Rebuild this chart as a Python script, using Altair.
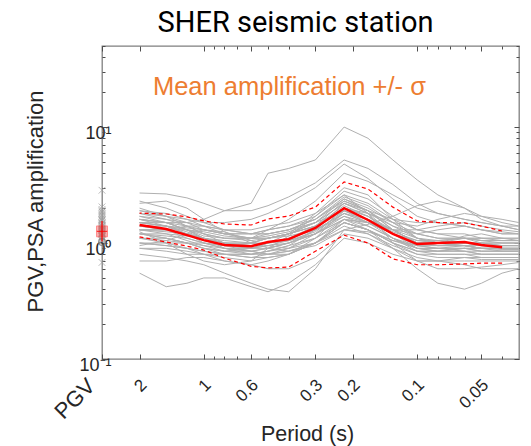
import altair as alt
import pandas as pd

# ---------------- data ----------------
periods = [2, 1.5, 1.2, 1, 0.8, 0.6, 0.5, 0.4, 0.3, 0.22, 0.17, 0.13, 0.1, 0.08, 0.06, 0.05, 0.04, 0.0333]

curves = [
    [1.6, 1.5, 1.5, 1.6, 1.9, 2.2, 4.0, 4.4, 5.2, 10.0, 8.0, 5.2, 3.5, 2.6, 2.0, 1.6, 1.4, 1.3],
    [2.7, 2.65, 2.45, 2.2, 1.9, 1.9, 2.1, 2.5, 3.3, 5.2, 4.4, 3.2, 2.2, 1.8, 1.6, 1.5, 1.4, 1.4],
    [1.8, 1.7, 1.6, 1.5, 1.5, 1.6, 1.8, 2.2, 3.0, 4.8, 3.6, 2.4, 1.7, 1.5, 1.4, 1.3, 1.2, 1.2],
    [1.5, 1.4, 1.3, 1.2, 1.1, 1.1, 1.3, 1.6, 2.3, 4.0, 3.4, 2.6, 2.0, 1.8, 1.6, 1.5, 1.4, 1.3],
    [1.2, 1.1, 1.0, 0.9, 0.85, 0.9, 1.0, 1.2, 1.8, 3.0, 2.6, 1.6, 1.1, 1.0, 0.95, 0.9, 0.9, 0.88],
    [1.9, 1.8, 1.6, 1.4, 1.2, 1.1, 1.1, 1.2, 1.5, 2.2, 1.8, 1.4, 1.2, 1.1, 1.1, 1.0, 1.0, 1.0],
    [1.4, 1.3, 1.2, 1.1, 1.0, 1.0, 1.1, 1.2, 1.4, 2.0, 1.7, 1.3, 1.0, 0.95, 0.95, 0.9, 0.9, 0.9],
    [1.0, 0.95, 0.9, 0.85, 0.8, 0.8, 0.85, 0.9, 1.1, 1.6, 1.4, 1.1, 0.9, 0.85, 0.85, 0.8, 0.8, 0.8],
    [0.8, 0.75, 0.7, 0.65, 0.55, 0.45, 0.4, 0.38, 0.6, 1.3, 1.2, 0.9, 0.7, 0.7, 0.75, 0.75, 0.75, 0.75],
    [0.55, 0.42, 0.45, 0.5, 0.5, 0.42, 0.38, 0.45, 0.65, 1.1, 1.0, 0.8, 0.7, 0.7, 0.7, 0.7, 0.7, 0.7],
    [1.6, 1.5, 1.3, 1.1, 0.9, 0.8, 0.8, 0.85, 1.0, 1.5, 1.3, 1.0, 0.8, 0.8, 0.8, 0.75, 0.75, 0.75],
    [1.3, 1.3, 1.4, 1.4, 1.3, 1.2, 1.2, 1.3, 1.6, 2.4, 2.0, 1.5, 1.2, 1.1, 1.1, 1.1, 1.05, 1.05],
    [2.0, 1.7, 1.4, 1.2, 1.0, 0.9, 0.9, 1.0, 1.2, 1.7, 1.5, 1.2, 1.0, 1.0, 1.1, 1.1, 1.1, 1.1],
    [1.1, 1.0, 0.9, 0.8, 0.7, 0.65, 0.7, 0.8, 1.1, 1.9, 1.6, 1.1, 0.85, 0.8, 0.8, 0.8, 0.8, 0.8],
    [1.5, 1.5, 1.4, 1.3, 1.2, 1.2, 1.3, 1.4, 1.6, 2.3, 1.9, 1.4, 1.1, 1.0, 1.0, 1.0, 0.95, 0.95],
    [0.9, 0.9, 0.85, 0.8, 0.75, 0.7, 0.75, 0.8, 1.0, 1.5, 1.3, 1.0, 0.85, 0.85, 0.9, 0.85, 0.85, 0.85],
    [1.7, 1.6, 1.5, 1.4, 1.3, 1.3, 1.4, 1.5, 1.8, 2.6, 2.2, 1.6, 1.3, 1.2, 1.2, 1.1, 1.1, 1.1],
    [1.3, 1.2, 1.05, 0.95, 0.85, 0.8, 0.85, 0.95, 1.3, 2.2, 1.8, 1.2, 0.9, 0.85, 0.9, 0.9, 0.85, 0.85],
    [1.2, 1.2, 1.15, 1.1, 1.05, 1.0, 1.0, 1.05, 1.2, 1.6, 1.5, 1.2, 1.0, 1.0, 1.0, 1.0, 1.0, 1.0],
    [1.4, 1.3, 1.1, 1.0, 0.9, 0.85, 0.9, 1.0, 1.3, 1.8, 1.5, 1.1, 0.9, 0.9, 0.95, 0.9, 0.9, 0.9],
    [1.6, 1.4, 1.2, 1.0, 0.95, 1.0, 1.1, 1.2, 1.4, 1.9, 1.5, 1.2, 1.0, 1.05, 1.1, 1.05, 1.0, 1.0],
    [1.0, 1.0, 1.0, 1.0, 0.95, 0.9, 0.95, 1.0, 1.2, 1.8, 1.6, 1.3, 1.1, 1.05, 1.0, 0.95, 0.95, 0.95],
    [2.3, 2.0, 1.7, 1.5, 1.3, 1.2, 1.2, 1.3, 1.5, 1.9, 1.6, 1.3, 1.2, 1.3, 1.4, 1.3, 1.2, 1.2],
    [1.1, 1.05, 1.0, 0.95, 0.9, 0.85, 0.8, 0.85, 1.0, 1.4, 1.2, 0.95, 0.8, 0.75, 0.75, 0.72, 0.72, 0.72],
    [1.5, 1.4, 1.25, 1.1, 1.0, 0.95, 1.0, 1.1, 1.4, 2.1, 1.7, 1.2, 0.95, 0.9, 0.9, 0.85, 0.85, 0.85],
    [1.3, 1.3, 1.2, 1.1, 0.95, 0.85, 0.8, 0.8, 1.0, 1.6, 1.5, 1.3, 1.3, 1.4, 1.5, 1.4, 1.3, 1.25],
    [1.8, 1.6, 1.4, 1.2, 1.1, 1.05, 1.1, 1.2, 1.5, 2.4, 1.9, 1.3, 1.0, 0.95, 0.95, 0.9, 0.9, 0.9],
    [0.7, 0.7, 0.75, 0.75, 0.7, 0.65, 0.6, 0.6, 0.75, 1.2, 1.1, 0.9, 0.75, 0.7, 0.65, 0.6, 0.6, 0.6],
    [1.2, 1.15, 1.1, 1.0, 0.9, 0.9, 1.0, 1.1, 1.3, 1.8, 1.5, 1.2, 1.05, 1.05, 1.1, 1.05, 1.05, 1.05],
    [1.6, 1.5, 1.3, 1.15, 1.1, 1.1, 1.2, 1.3, 1.6, 2.5, 2.1, 1.5, 1.1, 1.0, 1.0, 0.95, 0.9, 0.9],
    [1.0, 0.95, 0.9, 0.85, 0.8, 0.75, 0.8, 0.9, 1.2, 2.0, 1.7, 1.2, 0.95, 0.95, 1.0, 1.0, 0.95, 0.95],
    [1.4, 1.4, 1.35, 1.3, 1.2, 1.1, 1.1, 1.15, 1.3, 1.7, 1.4, 1.1, 0.95, 0.9, 0.85, 0.8, 0.8, 0.8],
    [1.7, 1.5, 1.3, 1.1, 1.0, 1.0, 1.1, 1.2, 1.4, 2.0, 1.8, 1.5, 1.4, 1.6, 1.8, 1.7, 1.6, 1.5],
    [1.1, 1.1, 1.0, 0.9, 0.8, 0.75, 0.75, 0.8, 1.0, 1.5, 1.3, 0.9, 0.6, 0.45, 0.4, 0.45, 0.55, 0.6],
    [1.3, 1.25, 1.2, 1.1, 1.0, 0.95, 1.0, 1.05, 1.25, 1.9, 1.6, 1.25, 1.05, 1.0, 0.95, 0.95, 0.95, 0.95],
    [1.9, 1.7, 1.5, 1.3, 1.2, 1.2, 1.3, 1.4, 1.7, 2.8, 2.4, 1.7, 1.3, 1.2, 1.1, 1.05, 1.05, 1.05],
    [1.2, 1.1, 1.0, 0.9, 0.85, 0.85, 0.9, 1.0, 1.2, 1.6, 1.3, 1.0, 0.85, 0.85, 0.85, 0.85, 0.85, 0.85],
    [1.5, 1.4, 1.2, 1.05, 0.95, 0.9, 0.95, 1.05, 1.4, 2.3, 1.9, 1.3, 1.0, 0.95, 0.95, 0.9, 0.9, 0.9],
    [0.9, 0.85, 0.8, 0.8, 0.8, 0.8, 0.85, 0.95, 1.1, 1.5, 1.3, 1.05, 0.9, 0.9, 0.9, 0.9, 0.88, 0.88],
    [1.3, 1.3, 1.3, 1.25, 1.15, 1.1, 1.15, 1.25, 1.5, 2.2, 1.9, 1.6, 1.5, 1.5, 1.4, 1.3, 1.25, 1.2],
    [0.95, 1.05, 1.2, 1.3, 1.25, 1.05, 0.9, 0.85, 0.95, 1.3, 1.45, 1.7, 2.1, 2.3, 2.0, 1.7, 1.5, 1.4],
    [1.25, 1.0, 0.8, 0.7, 0.65, 0.7, 0.9, 1.15, 1.7, 2.6, 1.8, 1.0, 0.7, 0.6, 0.6, 0.62, 0.65, 0.68],
    [2.2, 2.3, 2.0, 1.6, 1.25, 1.0, 0.95, 0.9, 1.0, 1.3, 1.25, 1.05, 0.95, 1.0, 1.15, 1.2, 1.1, 1.05],
]

stat_periods = [2, 1.5, 1.2, 1, 0.8, 0.6, 0.5, 0.4, 0.3, 0.22, 0.17, 0.13, 0.1, 0.08, 0.06, 0.05, 0.04]
mean_vals = [1.43, 1.32, 1.17, 1.06, 0.96, 0.94, 1.02, 1.08, 1.35, 2.0, 1.58, 1.2, 0.98, 1.0, 1.02, 0.96, 0.92]
upper_vals = [1.81, 1.78, 1.68, 1.55, 1.46, 1.43, 1.61, 1.71, 2.04, 3.36, 2.92, 2.04, 1.55, 1.50, 1.49, 1.40, 1.27]
lower_vals = [1.13, 1.02, 0.94, 0.87, 0.74, 0.63, 0.61, 0.62, 0.85, 1.17, 1.0, 0.73, 0.65, 0.65, 0.66, 0.67, 0.67]

pgv_period = 3
pgv_vals = [2.85, 2.05, 1.95, 1.9, 1.85, 1.8, 1.75, 1.7, 1.65, 1.6, 1.58, 1.55, 1.5, 1.47, 1.45,
            1.42, 1.4, 1.38, 1.35, 1.32, 1.3, 1.28, 1.25, 1.22, 1.2, 1.18, 1.15, 1.13, 1.1, 1.08,
            1.06, 1.04, 0.68]
pgv_mean = [1.26]
pgv_low = [1.03]
pgv_high = [1.55]
pgv_median = [1.02]

x_domain = [1 / 30, 3]
y_domain = [0.1, 50]
x_tick_values = [3, 2, 1, 0.6, 0.3, 0.2, 0.1, 0.05]
x_tick_labels = ["PGV", "2", "1", "0.6", "0.3", "0.2", "0.1", "0.05"]
x_minor_values = [0.9, 0.8, 0.7, 0.5, 0.4, 0.09, 0.08, 0.07, 0.06, 0.04]
y_tick_values = [0.1, 1, 10]
y_tick_labels = ["10\u207b\u00b9", "10\u2070", "10\u00b9"]
y_minor_values = [0.2, 0.3, 0.4, 0.5, 0.6, 0.7, 0.8, 0.9,
                  2, 3, 4, 5, 6, 7, 8, 9, 20, 30, 40, 50]

annotation = ["Mean amplification +/- \u03c3"]
annotation_period = [0.397]
annotation_value = [18.9]

# ---------------- tables ----------------
rows = []
for i, c in enumerate(curves):
    for p, v in zip(periods, c):
        rows.append({"curve": i, "period": p, "amp": v})
curves_df = pd.DataFrame(rows)

stats_df = pd.DataFrame({"period": stat_periods, "mean": mean_vals,
                         "upper": upper_vals, "lower": lower_vals})
pgv_df = pd.DataFrame({"period": [pgv_period] * len(pgv_vals), "amp": pgv_vals})
pgv_stat_df = pd.DataFrame({"period": [pgv_period], "mean": pgv_mean, "low": pgv_low,
                            "high": pgv_high, "median": pgv_median})
ann_df = pd.DataFrame({"period": annotation_period, "amp": annotation_value, "text": annotation})

W, H = 417, 313
FONT = "Liberation Sans"
TXT = "#262626"
TICKC = "#4d4d4d"

xscale = alt.Scale(type="log", domain=x_domain, reverse=True, nice=False)
yscale = alt.Scale(type="log", domain=y_domain, nice=False)


def ternary(values, labels):
    expr = "''"
    for v, l in reversed(list(zip(values, labels))):
        expr = f"datum.value == {v} ? '{l}' : ({expr})"
    return expr


x_main_axis = alt.Axis(
    values=x_tick_values, labelExpr=ternary(x_tick_values, x_tick_labels),
    ticks=False, tickSize=0, domain=False, grid=False,
    labelAngle=-45, labelAlign="right", labelBaseline="middle",
    labelFont=FONT, labelColor=TXT,
    labelFontSize={"condition": {"test": "datum.value == 3", "value": 22}, "value": 17},
    labelOffset={"condition": {"test": "datum.value == 3", "value": -11}, "value": 4},
    labelPadding=23, labelOverlap=False, labelBound=False, labelFlush=False,
    title="Period (s)", titleFont=FONT, titleFontSize=21.5, titleFontWeight="normal",
    titleColor=TXT, titleX=205, titleY=81, titleAlign="center", titleBaseline="alphabetic",
)
y_main_axis = alt.Axis(
    values=y_tick_values, labelExpr=ternary(y_tick_values, y_tick_labels),
    ticks=False, tickSize=0, domain=False, grid=False,
    labelFont=FONT, labelFontSize=18, labelColor=TXT, labelAlign="right",
    labelBaseline="middle", labelOffset=6, labelPadding=-9,
    labelOverlap=False, labelBound=False, labelFlush=False,
    title="PGV,PSA amplification", titleFont=FONT, titleFontSize=22,
    titleFontWeight="normal", titleColor=TXT, titleX=-60, titleY=155,
    titleAlign="center", titleBaseline="alphabetic", titleAngle=270,
)

X = alt.X("period:Q", scale=xscale, axis=x_main_axis)
Y = alt.Y("amp:Q", scale=yscale, axis=y_main_axis)

gray_lines = alt.Chart(curves_df).mark_line(color="#b0b0b0", strokeWidth=1, clip=True).encode(
    x=X, y=Y, detail="curve:N", order="period:Q")

pgv_marks = alt.Chart(pgv_df).mark_point(
    shape="M -1 -1 L 1 1 M -1 1 L 1 -1", filled=False, color="#a0a0a0",
    size=45, strokeWidth=1).encode(x=X, y=Y)

pgv_circle = alt.Chart(pgv_stat_df).mark_point(
    shape="circle", filled=False, color="#707070", size=45, strokeWidth=1.2).encode(
    x=X, y=alt.Y("median:Q", scale=yscale))

pgv_square = alt.Chart(pgv_stat_df).mark_point(
    shape="square", filled=True, color="#ff0000", opacity=0.3, size=120).encode(
    x=X, y=alt.Y("mean:Q", scale=yscale))
pgv_square_edge = alt.Chart(pgv_stat_df).mark_point(
    shape="square", filled=False, color="#ff4040", opacity=0.5, size=120, strokeWidth=1).encode(
    x=X, y=alt.Y("mean:Q", scale=yscale))
pgv_err = alt.Chart(pgv_stat_df).mark_rule(color="#ff0000", strokeWidth=1.2).encode(
    x=X, y=alt.Y("low:Q", scale=yscale), y2="high:Q")
pgv_hbar = alt.Chart(pgv_stat_df).mark_point(
    shape="M -1 0 L 1 0", filled=False, color="#ff0000", size=110, strokeWidth=1.2).encode(
    x=X, y=alt.Y("mean:Q", scale=yscale))

mean_line = alt.Chart(stats_df).mark_line(color="#ff0000", strokeWidth=2.5).encode(
    x=X, y=alt.Y("mean:Q", scale=yscale), order="period:Q")
upper_line = alt.Chart(stats_df).mark_line(color="#ff0000", strokeWidth=1.2, strokeDash=[4, 3]).encode(
    x=X, y=alt.Y("upper:Q", scale=yscale), order="period:Q")
lower_line = alt.Chart(stats_df).mark_line(color="#ff0000", strokeWidth=1.2, strokeDash=[4, 3]).encode(
    x=X, y=alt.Y("lower:Q", scale=yscale), order="period:Q")

ann = alt.Chart(ann_df).mark_text(
    font=FONT, fontSize=25.5, color="#ed7d31", align="center", baseline="alphabetic").encode(
    x=X, y=Y, text="text:N")

main = alt.layer(gray_lines, pgv_marks, pgv_circle, pgv_square, pgv_square_edge, pgv_err,
                 pgv_hbar, lower_line, upper_line, mean_line, ann)


# ---- inward tick axes (all four sides), drawn by axes pushed inside the frame ----
def tick_layer(x_orient, y_orient, xvals, yvals, size):
    xa = alt.Axis(orient=x_orient, offset=-H, values=xvals, labels=False, domain=False,
                  grid=False, ticks=True, tickSize=size, tickColor=TICKC, tickWidth=1,
                  title=None)
    ya = alt.Axis(orient=y_orient, offset=-W, values=yvals, labels=False, domain=False,
                  grid=False, ticks=True, tickSize=size, tickColor=TICKC, tickWidth=1,
                  title=None)
    return alt.Chart(stats_df).mark_point(opacity=0).encode(
        x=alt.X("period:Q", scale=xscale, axis=xa),
        y=alt.Y("mean:Q", scale=yscale, axis=ya))


chart = alt.layer(
    main,
    tick_layer("top", "right", x_tick_values, y_tick_values, 5),
    tick_layer("bottom", "left", x_tick_values, y_tick_values, 5),
    tick_layer("top", "right", x_minor_values, y_minor_values, 3),
    tick_layer("bottom", "left", x_minor_values, y_minor_values, 3),
).resolve_scale(
    x="independent", y="independent").resolve_axis(x="independent", y="independent").properties(
    width=W, height=H,
    autosize=alt.AutoSizeParams(type="none"),
    padding={"left": 102, "top": 46, "right": 12, "bottom": 87},
    title=alt.TitleParams("SHER seismic station", font="Roboto", fontSize=29, fontWeight="normal",
                          color="#000000", anchor="middle", dx=-15, dy=29, offset=14,
                          baseline="alphabetic"),
    background="white",
).configure_view(stroke="#7f7f7f", strokeWidth=1.3)

chart.save("out.html", embed_options={"renderer": "svg", "actions": False})
